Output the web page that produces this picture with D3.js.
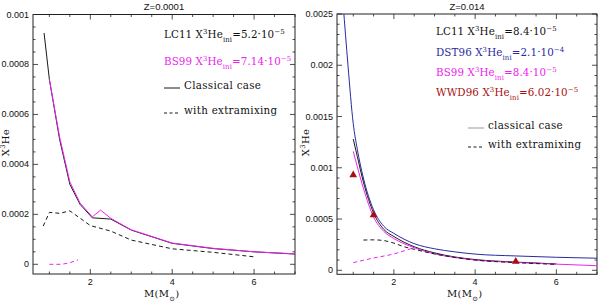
<!DOCTYPE html>
<html>
<head>
<meta charset="utf-8">
<script src="https://cdn.jsdelivr.net/npm/d3@7"></script>
<style>
  body { margin: 0; background: #fff; }
  svg { display: block; }
</style>
</head>
<body>
<div id="chart"></div>
<script>
// ---- data ----
// left panel, Z=0.0001
const lowZ_LC11 = [[0.87, 0.000926], [1.0, 0.00074], [1.25, 0.0005], [1.5, 0.00032], [1.75, 0.00024], [2.05, 0.000186], [2.5, 0.000181], [3, 0.000137], [4, 0.000084], [5, 0.000063], [6, 0.00005], [7, 0.000041]];
const lowZ_BS99 = [[1.0, 0.00074], [1.25, 0.00051], [1.5, 0.00033], [1.75, 0.000245], [2.05, 0.00019], [2.25, 0.000217], [2.5, 0.000184], [3, 0.000138], [4, 0.000085], [5, 0.000064], [6, 0.00005], [7, 0.000042]];
const lowZ_LC11mix = [[0.85, 0.000153], [1.0, 0.000208], [1.25, 0.000204], [1.5, 0.000214], [2.0, 0.000155], [2.5, 0.000133], [3, 0.000097], [4, 0.000062], [5, 0.000048], [6, 0.00003]];
const lowZ_BS99mix = [[1.0, 0], [1.3, 0], [1.5, 0.000006], [1.7, 0.000018]];

// right panel, Z=0.014
const solZ_DST96 = [[0.75, 0.0026], [0.87, 0.002], [1.0, 0.00143], [1.1, 0.00118], [1.25, 0.0009], [1.5, 0.00059], [1.75, 0.00043], [2, 0.00036], [2.5, 0.00026], [3, 0.00021], [3.5, 0.00018], [4, 0.000158], [5, 0.00014], [6, 0.000127], [7, 0.000118]];
const solZ_LC11 = [[1.0, 0.00128], [1.1, 0.00111], [1.25, 0.00086], [1.5, 0.00056], [1.75, 0.0004], [2, 0.00033], [2.5, 0.00023], [3, 0.00017], [3.5, 0.00013], [4, 0.000105], [5, 0.00008], [6, 0.000062]];
const solZ_BS99 = [[1.0, 0.00116], [1.1, 0.00101], [1.25, 0.0008], [1.5, 0.00052], [1.75, 0.00038], [2, 0.00031], [2.5, 0.00022], [3, 0.00016], [3.5, 0.000125], [4, 0.0001], [5, 0.000077], [6, 0.00006], [7, 0.000045]];
const solZ_LC11mix = [[1.25, 0.000295], [1.5, 0.000297], [1.75, 0.00029], [2, 0.000265], [2.25, 0.00023], [2.5, 0.000205], [3, 0.00016], [4, 0.0001], [5, 0.000075], [6, 0.000058]];
const solZ_BS99mix = [[1.0, 0.000075], [1.5, 0.00012], [2, 0.00016], [2.25, 0.00019], [2.5, 0.00022]];
const solZ_WWD96 = [[1.0, 0.00093], [1.5, 0.00054], [5, 0.000085]];

const xTicks = [2, 4, 6];
const lowZ_yTicks = [0, 0.0002, 0.0004, 0.0006, 0.0008, 0.001];
const lowZ_yLabels = ['0', '0.0002', '0.0004', '0.0006', '0.0008', '0.001'];
const solZ_yTicks = [0, 0.0005, 0.001, 0.0015, 0.002, 0.0025];
const solZ_yLabels = ['0', '0.0005', '0.001', '0.0015', '0.002', '0.0025'];

const BLACK = '#1a1a1a', MAGENTA = '#ee22ee', BLUE = '#2a2aa0', RED = '#a80f0f';
const legendFont = "'DejaVu Serif', serif";
const tickFont = "'Liberation Sans', Arial, sans-serif";

const svg = d3.select('#chart').append('svg')
  .attr('width', 600).attr('height', 302);

// text with super/subscripts; parts: [string, shift] shift 1=sup, -1=sub
function richText(g, x, y, parts, color, size, spacing) {
  const t = g.append('text')
    .attr('x', x).attr('y', y)
    .attr('font-family', legendFont)
    .attr('font-size', size)
    .attr('letter-spacing', spacing || 0)
    .attr('fill', color);
  let prev = 0;
  parts.forEach(([s, shift]) => {
    const dy = (prev - shift) * size * 0.38;
    t.append('tspan')
      .attr('dy', dy)
      .attr('font-size', shift ? size * 0.68 : size)
      .text(s);
    prev = shift;
  });
  return t;
}

function drawPanel(cfg) {
  const { left, right, top, bottom } = cfg;
  const g = svg.append('g');
  const x = d3.scaleLinear().domain([0.6, 7]).range([left, right]);
  const y = d3.scaleLinear().domain(cfg.yDomain).range([bottom, top]);

  const clipId = 'clip' + cfg.id;
  svg.append('clipPath').attr('id', clipId)
    .append('rect').attr('x', left).attr('y', top)
    .attr('width', right - left).attr('height', bottom - top);

  // frame
  g.append('rect')
    .attr('x', left).attr('y', top)
    .attr('width', right - left).attr('height', bottom - top)
    .attr('fill', 'none').attr('stroke', '#222').attr('stroke-width', 1);

  // ticks on all sides, pointing inward
  const xMinor = d3.range(1, 7.01, 0.5);
  const yMinor = d3.range(0, cfg.yDomain[1] + 1e-9, cfg.yMinorStep);
  const tg = g.append('g').attr('stroke', '#222').attr('stroke-width', 0.8);
  xMinor.forEach((v) => {
    const len = xTicks.includes(v) ? 5 : 2.5;
    tg.append('line').attr('x1', x(v)).attr('x2', x(v)).attr('y1', bottom).attr('y2', bottom - len);
    tg.append('line').attr('x1', x(v)).attr('x2', x(v)).attr('y1', top).attr('y2', top + len);
  });
  yMinor.forEach((v) => {
    const major = cfg.yTicks.some((t) => Math.abs(t - v) < 1e-9);
    const len = major ? 5 : 2.5;
    tg.append('line').attr('x1', left).attr('x2', left + len).attr('y1', y(v)).attr('y2', y(v));
    tg.append('line').attr('x1', right).attr('x2', right - len).attr('y1', y(v)).attr('y2', y(v));
  });

  // tick labels
  g.selectAll('.xl').data(xTicks).enter().append('text')
    .attr('x', (d) => x(d)).attr('y', bottom + 11)
    .attr('text-anchor', 'middle')
    .attr('font-family', tickFont).attr('font-size', 9).attr('fill', '#111')
    .text((d) => d);
  g.selectAll('.yl').data(cfg.yTicks).enter().append('text')
    .attr('x', left - 4).attr('y', (d) => y(d) + 3)
    .attr('text-anchor', 'end')
    .attr('font-family', tickFont).attr('font-size', 9).attr('fill', '#111')
    .text((d, i) => cfg.yLabels[i]);

  // title
  g.append('text')
    .attr('x', (left + right) / 2).attr('y', 10)
    .attr('text-anchor', 'middle')
    .attr('font-family', tickFont).attr('font-size', 9.5).attr('fill', '#111')
    .text(cfg.title);

  // axis titles
  richText(g, (left + right) / 2 - 20, 297, [['M(M', 0], ['\u2299', -1], [')', 0]], '#111', 10, 0.3);
  const yt = g.append('g').attr('transform', `translate(${left - cfg.yTitleOff},${(top + bottom) / 2}) rotate(-90)`);
  richText(yt, -12, 0, [['X', 0], ['3', 1], ['He', 0]], '#111', 10, 0.3);

  // curves
  const line = d3.line()
    .x((d) => x(d[0])).y((d) => y(d[1]))
    .curve(cfg.smooth ? d3.curveMonotoneX : d3.curveLinear);
  const cg = g.append('g').attr('clip-path', `url(#${clipId})`);
  cfg.series.forEach((s) => {
    cg.append('path')
      .attr('d', line(s.data))
      .attr('fill', 'none')
      .attr('stroke', s.color)
      .attr('stroke-width', 1)
      .attr('stroke-dasharray', s.dashed ? '4,3' : null);
  });
  if (cfg.points) {
    const tri = d3.symbol().type(d3.symbolTriangle).size(26);
    cg.selectAll('.pt').data(cfg.points).enter().append('path')
      .attr('d', tri)
      .attr('transform', (d) => `translate(${x(d[0])},${y(d[1])})`)
      .attr('fill', RED);
  }

  // legend
  const lg = g.append('g');
  cfg.legend.forEach((l) => {
    if (l.parts) {
      richText(lg, l.x, l.y, l.parts, l.color, 10.3, 0.1);
    } else {
      lg.append('line')
        .attr('x1', l.x).attr('x2', l.x + 16)
        .attr('y1', l.y - 1).attr('y2', l.y - 1)
        .attr('stroke', l.lineColor).attr('stroke-width', 1)
        .attr('stroke-dasharray', l.dashed ? '3,2.5' : null);
      richText(lg, l.x + 20, l.y, [[l.label, 0]], '#111', 10.3, 0.3);
    }
  });
}

drawPanel({
  id: 'L', left: 33, right: 295, top: 14.5, bottom: 274, yTitleOff: 24,
  yDomain: [-0.0000388, 0.001], yMinorStep: 0.00005,
  yTicks: lowZ_yTicks, yLabels: lowZ_yLabels,
  title: 'Z=0.0001', smooth: false,
  series: [
    { data: lowZ_LC11, color: BLACK },
    { data: lowZ_BS99, color: MAGENTA },
    { data: lowZ_LC11mix, color: BLACK, dashed: true },
    { data: lowZ_BS99mix, color: MAGENTA, dashed: true },
  ],
  legend: [
    { x: 164, y: 38, color: '#111', parts: [['LC11 X', 0], ['3', 1], ['He', 0], ['ini', -1], ['=5.2\u00b710', 0], ['\u22125', 1]] },
    { x: 164, y: 65, color: MAGENTA, parts: [['BS99 X', 0], ['3', 1], ['He', 0], ['ini', -1], ['=7.14\u00b710', 0], ['\u22125', 1]] },
    { x: 164, y: 89, label: 'Classical case', lineColor: BLACK },
    { x: 164, y: 114, label: 'with extramixing', lineColor: BLACK, dashed: true },
  ],
});

drawPanel({
  id: 'R', left: 337, right: 597, top: 14, bottom: 274.3, yTitleOff: 28,
  yDomain: [-0.000039, 0.0025], yMinorStep: 0.0001,
  yTicks: solZ_yTicks, yLabels: solZ_yLabels,
  title: 'Z=0.014', smooth: true,
  series: [
    { data: solZ_DST96, color: BLUE },
    { data: solZ_LC11, color: BLACK },
    { data: solZ_BS99, color: MAGENTA },
    { data: solZ_LC11mix, color: BLACK, dashed: true },
    { data: solZ_BS99mix, color: MAGENTA, dashed: true },
  ],
  points: solZ_WWD96,
  legend: [
    { x: 436, y: 35, color: '#111', parts: [['LC11 X', 0], ['3', 1], ['He', 0], ['ini', -1], ['=8.4\u00b710', 0], ['\u22125', 1]] },
    { x: 436, y: 56, color: BLUE, parts: [['DST96 X', 0], ['3', 1], ['He', 0], ['ini', -1], ['=2.1\u00b710', 0], ['\u22124', 1]] },
    { x: 436, y: 76, color: MAGENTA, parts: [['BS99 X', 0], ['3', 1], ['He', 0], ['ini', -1], ['=8.4\u00b710', 0], ['\u22125', 1]] },
    { x: 436, y: 96, color: RED, parts: [['WWD96 X', 0], ['3', 1], ['He', 0], ['ini', -1], ['=6.02\u00b710', 0], ['\u22125', 1]] },
    { x: 468, y: 129, label: 'classical case', lineColor: '#999' },
    { x: 468, y: 148, label: 'with extramixing', lineColor: BLACK, dashed: true },
  ],
});
</script>
</body>
</html>
